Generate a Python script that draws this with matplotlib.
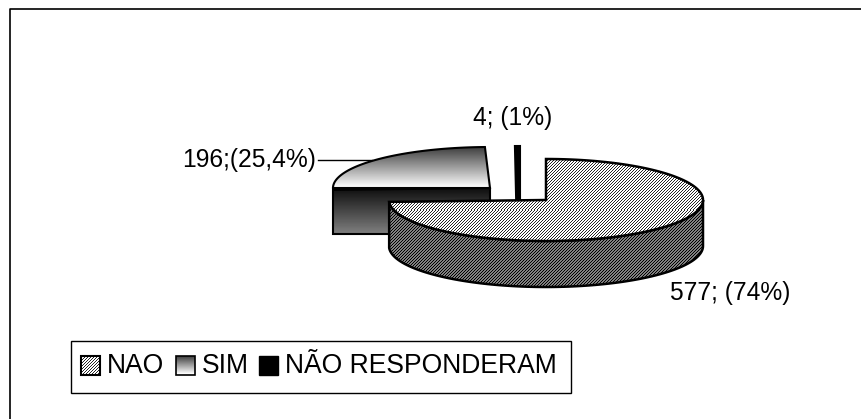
import numpy as np
import matplotlib
matplotlib.use('Agg')
import matplotlib.pyplot as plt
from matplotlib.patches import Polygon, Rectangle

plt.rcParams['font.family'] = ['Liberation Sans', 'DejaVu Sans']

categories = ['NAO', 'SIM', 'NÃO RESPONDERAM']
values = [577, 196, 4]
labels = ['577; (74%)', '196;(25,4%)', '4; (1%)']

# exploded slice centres, in pixels of the picture
centres = [(546, 200), (490, 188), (520, 187)]
RX, RY = 157, 41
DEPTH = 46


def arc(cx, cy, a0, a1):
    # angles clockwise from 12 o'clock, squashed to an ellipse
    t = np.radians(np.linspace(a0, a1, 120))
    return np.column_stack([cx + RX * np.sin(t), cy - RY * np.cos(t)])


def gradient(ax, poly, top, bottom, c0, c1):
    g = np.linspace(c0, c1, 64).reshape(-1, 1)
    im = ax.imshow(g, cmap='gray', vmin=0, vmax=1, aspect='auto',
                   extent=(0, 861, bottom, top), zorder=poly.get_zorder() - 0.1)
    im.set_clip_path(poly)


def hatched(ax, poly, light, dark):
    # 3 px diagonal pattern, matplotlib's own hatch aliases at this density
    yy, xx = np.indices((419, 861))
    tex = np.where((xx + yy) % 3 == 0, dark, light).astype(float)
    im = ax.imshow(tex, cmap='gray', vmin=0, vmax=1, aspect='auto', interpolation='nearest',
                   extent=(0, 861, 419, 0), zorder=poly.get_zorder() - 0.1)
    im.set_clip_path(poly)


fig = plt.figure(figsize=(8.61, 4.19), dpi=100)
ax = fig.add_axes([0, 0, 1, 1])
ax.set_xlim(0, 861)
ax.set_ylim(419, 0)
ax.axis('off')

# chart frame runs off the picture on the right and bottom
ax.plot([9.5, 9.5, 861], [419, 9.5, 9.5], color='black', lw=1.2, zorder=1)

angles = np.cumsum([0] + values) / sum(values) * 360

# SIM slice, gradient faces
cx, cy = centres[1]
a0, a1 = angles[1], angles[2]
edge = arc(cx, cy, a0, a1)
front = Polygon([(edge[0][0], cy), (cx, cy), (cx, cy + DEPTH), (edge[0][0], cy + DEPTH)],
                closed=True, fc='none', ec='black', lw=1.5, zorder=3)
ax.add_patch(front)
gradient(ax, front, cy, cy + DEPTH, 0.05, 0.5)
top_face = Polygon(np.vstack([[cx, cy], edge]), closed=True, fc='none', ec='black', lw=1.5, zorder=3)
ax.add_patch(top_face)
gradient(ax, top_face, cy - RY, cy, 0.25, 1.0)

# small slice, cut face keeps it thick all the way down
cx, cy = centres[2]
a0, a1 = angles[2], angles[3]
rim = arc(cx, cy, a0, a1)
ax.add_patch(Polygon(np.vstack([rim, [cx, cy + DEPTH], [rim[0][0] + 2, cy + DEPTH]]),
                     closed=True, fc='black', ec='black', lw=1.5, zorder=4))

# NAO slice
cx, cy = centres[0]
a0, a1 = angles[0], angles[1]
edge = arc(cx, cy, a0, a1)
# only the part of the rim facing the viewer
rim = arc(cx, cy, 90, a1)
side = Polygon(np.vstack([rim, (rim + [0, DEPTH])[::-1]]), closed=True, fc='none',
               ec='black', lw=1.8, zorder=5)
ax.add_patch(side)
hatched(ax, side, 0.5, 0.0)
top_nao = Polygon(np.vstack([[cx, cy], edge]), closed=True, fc='none', ec='black',
                  lw=1.8, zorder=6)
ax.add_patch(top_nao)
hatched(ax, top_nao, 1.0, 0.15)

# data labels
ax.text(670, 292.5, labels[0], fontsize=17.7, ha='left', va='center', color='black')
ax.text(182, 160, labels[1], fontsize=17.7, ha='left', va='center', color='black')
ax.text(473, 118, labels[2], fontsize=17.7, ha='left', va='center', color='black')
ax.plot([318, 372], [160.5, 160.5], color='black', lw=1, zorder=2)

# legend box
ax.add_patch(Rectangle((70.5, 340.5), 500, 52, fc='white', ec='black', lw=1, zorder=7))
sw0 = Rectangle((81, 356), 19, 19, fc='none', ec='black', lw=1.5, zorder=8)
ax.add_patch(sw0)
hatched(ax, sw0, 1.0, 0.15)
sw1 = Rectangle((175.5, 355.5), 19, 19, fc='none', ec='black', lw=1.2, zorder=8)
ax.add_patch(sw1)
gradient(ax, sw1, 355.5, 374.5, 0.2, 1.0)
ax.add_patch(Rectangle((259, 356), 19, 19, fc='black', ec='black', lw=1, zorder=8))
for x, name in zip([107, 202, 285], categories):
    ax.text(x, 365.5, name, fontsize=19.1, ha='left', va='center', color='black', zorder=9)

ax.set_xlim(0, 861)
ax.set_ylim(419, 0)
fig.savefig('out.png', dpi=100)
